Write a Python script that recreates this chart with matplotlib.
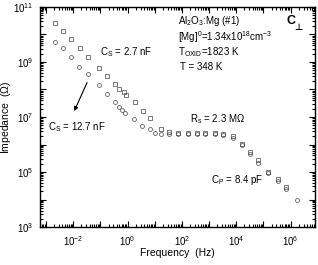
import numpy as np
import matplotlib
matplotlib.use("Agg")
import matplotlib.pyplot as plt
from matplotlib.ticker import LogLocator, FuncFormatter, NullFormatter

plt.rcParams['font.family'] = ['Liberation Sans', 'DejaVu Sans']
plt.rcParams['mathtext.fontset'] = 'custom'
plt.rcParams['mathtext.rm'] = 'Liberation Sans'
plt.rcParams['mathtext.it'] = 'Liberation Sans'

# log10 frequency (Hz) and log10 impedance (Ohm)
sq_logf = [-2.66, -2.38, -2.07, -1.74, -1.44, -1.04, -0.74, -0.46, -0.31, -0.15, -0.05,
           0.28, 0.55, 0.83, 1.24, 1.53, 1.86, 2.23, 2.56, 2.85, 3.22, 3.51, 3.88,
           4.21, 4.51, 4.80, 5.17, 5.54, 5.83]
sq_logz = [10.43, 10.14, 9.85, 9.50, 9.19, 8.79, 8.49, 8.20, 8.00, 7.90, 7.79,
           7.55, 7.22, 6.95, 6.58, 6.44, 6.42, 6.41, 6.41, 6.42, 6.41, 6.39, 6.30,
           6.01, 5.72, 5.42, 5.00, 4.73, 4.45]
ci_logf = [-2.66, -2.39, -2.07, -1.77, -1.46, -1.06, -0.76, -0.46, -0.31, -0.19, -0.09,
           0.24, 0.52, 0.83, 1.01, 1.24, 1.53, 1.86, 2.23, 2.56, 2.85, 3.22, 3.51,
           3.88, 4.21, 4.51, 4.80, 5.17, 5.54, 5.83, 6.24]
ci_logz = [9.72, 9.50, 9.17, 8.83, 8.55, 8.15, 7.82, 7.55, 7.35, 7.25, 7.16,
           6.93, 6.67, 6.55, 6.42, 6.38, 6.38, 6.37, 6.37, 6.37, 6.38, 6.37, 6.36,
           6.25, 5.97, 5.67, 5.33, 4.96, 4.68, 4.38, 3.98]

sq_f = 10 ** np.array(sq_logf)
sq_z = 10 ** np.array(sq_logz)
ci_f = 10 ** np.array(ci_logf)
ci_z = 10 ** np.array(ci_logz)

fig = plt.figure(figsize=(3.18, 2.65), dpi=100)
ax = fig.add_axes([0.126, 0.143, 0.865, 0.831])

ax.plot(sq_f, sq_z, linestyle='none', marker='s', markersize=2.6,
        markerfacecolor='none', markeredgecolor='#444444', markeredgewidth=0.5)
ax.plot(ci_f, ci_z, linestyle='none', marker='o', markersize=2.8,
        markerfacecolor='none', markeredgecolor='#444444', markeredgewidth=0.5)

ax.set_xscale('log')
ax.set_yscale('log')
ax.set_xlim(10 ** -3.22, 10 ** 6.9)
ax.set_ylim(1e3, 1e11)

ax.xaxis.set_major_locator(LogLocator(base=10, numticks=30))
ax.yaxis.set_major_locator(LogLocator(base=10, numticks=30))
ax.xaxis.set_minor_locator(LogLocator(base=10, subs=np.arange(2, 10), numticks=30))
ax.yaxis.set_minor_locator(LogLocator(base=10, subs=np.arange(2, 10), numticks=30))
ax.xaxis.set_minor_formatter(NullFormatter())
ax.yaxis.set_minor_formatter(NullFormatter())

def xfmt(v, pos):
    e = int(round(np.log10(v)))
    return r'$10^{%d}$' % e if e % 2 == 0 else ''

def yfmt(v, pos):
    e = int(round(np.log10(v)))
    return r'$10^{%d}$' % e if e % 2 == 1 else ''

ax.xaxis.set_major_formatter(FuncFormatter(xfmt))
ax.yaxis.set_major_formatter(FuncFormatter(yfmt))

ax.tick_params(which='both', direction='in', top=True, right=True, labelsize=7, width=0.8)
ax.tick_params(which='major', length=4, pad=5)
ax.tick_params(which='minor', length=2)
for s in ax.spines.values():
    s.set_linewidth(1.0)

ax.set_xlabel('Frequency  (Hz)', fontsize=7.5)
ax.set_ylabel(r'Impedance  ($\Omega$)', fontsize=7.5)
ax.xaxis.set_label_coords(0.5, -0.095)
ax.yaxis.set_label_coords(-0.10, 0.5)

fs = 7
ax.text(0.218, 0.795, r'C$_\mathrm{S}$ = 2.7 nF', transform=ax.transAxes, fontsize=fs, va='center')
ax.text(0.03, 0.455, r'C$_\mathrm{S}$ = 12.7 nF', transform=ax.transAxes, fontsize=fs, va='center')
ax.annotate('', xy=(0.12, 0.515), xytext=(0.175, 0.668), xycoords='axes fraction',
            arrowprops=dict(arrowstyle='-|>', color='black', lw=0.8, mutation_scale=6))
ax.text(0.50, 0.935, r'Al$_2$O$_3$:Mg (#1)', transform=ax.transAxes, fontsize=fs, va='center')
ax.text(0.50, 0.865, r'[Mg]$^0$=1.34x10$^{18}$cm$^{-3}$', transform=ax.transAxes, fontsize=fs, va='center')
ax.text(0.50, 0.795, r'T$_\mathrm{OXID}$=1823 K', transform=ax.transAxes, fontsize=fs, va='center')
ax.text(0.51, 0.725, 'T = 348 K', transform=ax.transAxes, fontsize=fs, va='center')
ax.text(0.895, 0.935, 'C', transform=ax.transAxes, fontsize=9, fontweight='bold', va='center')
ax.text(0.925, 0.905, '\u22a5', transform=ax.transAxes, fontsize=6.5, fontweight='bold',
        family=['DejaVu Sans'], va='center')
ax.text(0.545, 0.49, r'R$_\mathrm{s}$ = 2.3 M$\Omega$', transform=ax.transAxes, fontsize=fs, va='center')
ax.text(0.62, 0.214, r'C$_\mathrm{P}$ = 8.4 pF', transform=ax.transAxes, fontsize=fs, va='center')

fig.savefig('out.png', dpi=100)
